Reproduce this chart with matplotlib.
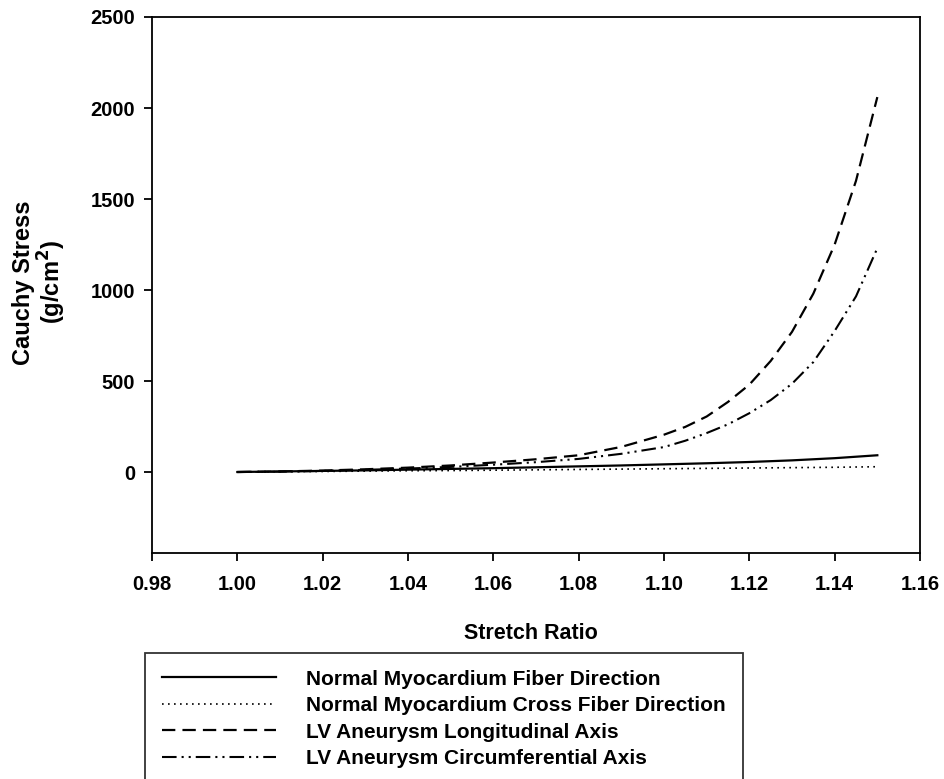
import matplotlib
matplotlib.use("Agg")
import matplotlib.pyplot as plt

plt.rcParams['font.family'] = ['Liberation Sans', 'DejaVu Sans']
plt.rcParams['font.weight'] = 'bold'
plt.rcParams['mathtext.default'] = 'bf'

# ---- data ----
stretch_normal = [1.00, 1.01, 1.02, 1.03, 1.04, 1.05, 1.06, 1.07, 1.08,
                  1.09, 1.10, 1.11, 1.12, 1.13, 1.14, 1.15]
fiber = [0, 3, 6, 9, 13, 17, 21, 26, 31, 36, 42, 48, 55, 64, 76, 92]
cross_fiber = [0, 2, 3, 5, 7, 8, 10, 12, 14, 16, 18, 20, 22, 24, 26, 29]

stretch_lv = [1.00, 1.01, 1.02, 1.03, 1.04, 1.05, 1.06, 1.07, 1.08, 1.09,
              1.10, 1.105, 1.11, 1.115, 1.12, 1.125, 1.13, 1.135, 1.14,
              1.145, 1.15]
longitudinal = [0, 3, 8, 15, 24, 36, 52, 70, 92, 138,
                205, 248, 305, 385, 480, 610, 770, 980, 1250, 1600, 2060]
circumferential = [0, 2, 6, 12, 19, 28, 40, 54, 72, 100,
                   137, 172, 214, 262, 323, 395, 485, 604, 775, 965, 1230]

labels = ["Normal Myocardium Fiber Direction",
          "Normal Myocardium Cross Fiber Direction",
          "LV Aneurysm Longitudinal Axis",
          "LV Aneurysm Circumferential Axis"]

xticks = [0.98, 1.00, 1.02, 1.04, 1.06, 1.08, 1.10, 1.12, 1.14, 1.16]
yticks = [0, 500, 1000, 1500, 2000, 2500]

# ---- figure ----
fig = plt.figure(figsize=(9.45, 7.79), dpi=100)
ax = fig.add_axes([152/945, 1 - 553/779, (920 - 152)/945, (553 - 17)/779])

l1, = ax.plot(stretch_normal, fiber, color='black', lw=1.6, linestyle='-')
l2, = ax.plot(stretch_normal, cross_fiber, color='black', lw=1.2,
              linestyle=(0, (1, 2.6)))
l3, = ax.plot(stretch_lv, longitudinal, color='black', lw=1.6,
              linestyle=(0, (6.0, 3.2)))
l4, = ax.plot(stretch_lv, circumferential, color='black', lw=1.5,
              linestyle=(0, (7.0, 2.4, 1.0, 2.4, 1.0, 2.4)))

ax.set_xlim(0.98, 1.16)
ax.set_ylim(-445, 2500)
ax.set_xticks(xticks)
ax.set_xticklabels([f"{v:.2f}" for v in xticks])
ax.set_yticks(yticks)
ax.set_yticklabels([str(v) for v in yticks])

for s in ax.spines.values():
    s.set_linewidth(1.3)
ax.tick_params(axis='both', direction='out', length=6, width=1.3,
               labelsize=14.5, top=False, right=False)
ax.tick_params(axis='x', pad=10)
ax.tick_params(axis='y', pad=6)

ax.set_xlabel("Stretch Ratio", fontsize=15.5, fontweight='bold', labelpad=17)
ax.xaxis.set_label_coords(0.493, -0.13)
ax.set_ylabel("Cauchy Stress\n(g/cm$^2$)", fontsize=17, fontweight='bold',
              linespacing=1.05)
ax.yaxis.set_label_coords(-0.109, 0.505)

leg = fig.legend([l1, l2, l3, l4], labels, loc='upper left',
                 bbox_to_anchor=(145/945, 1 - 653/779),
                 bbox_transform=fig.transFigure,
                 fontsize=15, frameon=True, fancybox=False,
                 handlelength=5.5, handletextpad=1.45, labelspacing=0.36,
                 borderpad=0.8, borderaxespad=0)
leg.get_frame().set_edgecolor('black')
leg.get_frame().set_linewidth(1.3)
for t in leg.get_texts():
    t.set_fontweight('bold')

fig.savefig("out.png", dpi=100)
